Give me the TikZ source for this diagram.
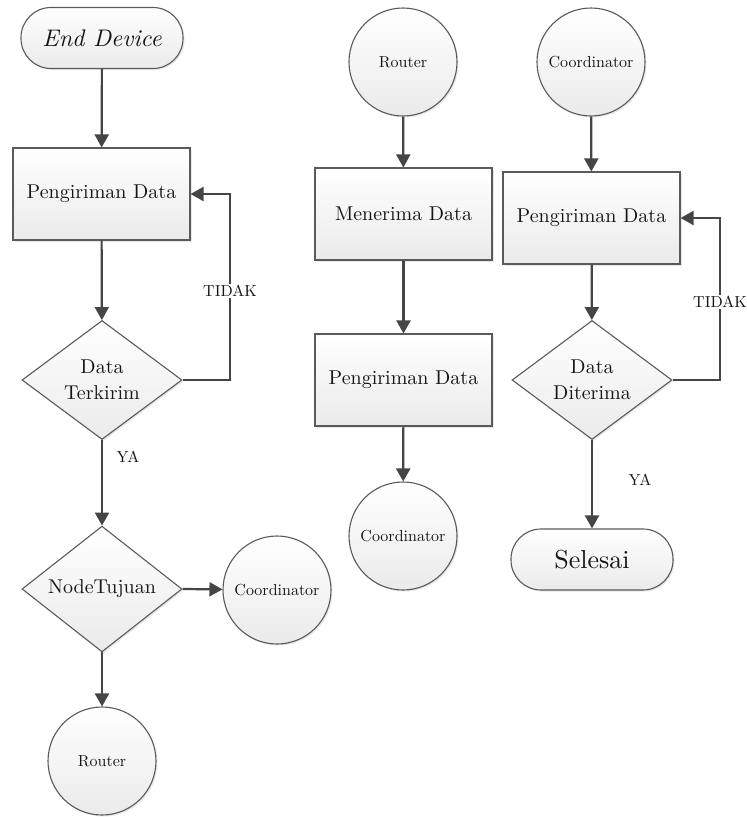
\documentclass[tikz,border=0pt]{standalone}
\usepackage{fontspec}
\setmainfont{lmroman10-regular.otf}[ItalicFont=lmroman10-italic.otf, BoldFont=lmroman10-bold.otf]
\usetikzlibrary{arrows.meta,shapes.geometric,shadows}
\definecolor{edge}{HTML}{5A5A5A}
\definecolor{arrowc}{HTML}{454545}
\definecolor{txt}{HTML}{151515}
\tikzset{
  base/.style={draw=edge, line width=1.1pt, top color=white, bottom color=gray!16,
    text=txt, inner sep=0pt, align=center,
    drop shadow={opacity=0.18, shadow xshift=1.5pt, shadow yshift=-1.5pt}},
  termbox/.style={base, rectangle, rounded corners=30pt, minimum width=162pt, minimum height=61pt},
  procbox/.style={base, rectangle, minimum width=177pt, minimum height=92pt,
    font=\fontsize{20}{26}\selectfont},
  decbox/.style={base, diamond, minimum width=160pt, minimum height=119pt,
    font=\fontsize{20}{26}\selectfont},
  circbox/.style={base, circle, minimum size=108pt, font=\fontsize{16}{20}\selectfont},
  arr/.style={draw=arrowc, line width=2.2pt, -{Triangle[length=13pt,width=14pt]}},
  lbl/.style={fill=white, text=txt, inner sep=1.5pt, font=\fontsize{16}{20}\selectfont},
}
\begin{document}
\begin{tikzpicture}[x=1pt,y=-1pt]
\useasboundingbox (0,0) rectangle (747,817);
% left column
\node[termbox, font=\fontsize{24}{30}\selectfont\itshape] (ED) at (102,38) {End Device};
\node[procbox] (P1) at (101.5,194) {Pengiriman Data};
\node[decbox] (D1) at (102,380) {Data\\Terkirim};
\node[decbox] (D2) at (102,589) {NodeTujuan};
\node[circbox] (C1) at (277,590) {Coordinator};
\node[circbox] (R1) at (102,761) {Router};
% middle column
\node[circbox] (R2) at (403,62) {Router};
\node[procbox] (M) at (403.5,214) {Menerima Data};
\node[procbox] (P2) at (403.5,380) {Pengiriman Data};
\node[circbox] (C2) at (403,536) {Coordinator};
% right column
\node[circbox] (C3) at (591,62) {Coordinator};
\node[procbox] (P3) at (591.5,218) {Pengiriman Data};
\node[decbox] (D3) at (592,380) {Data\\Diterima};
\node[termbox, font=\fontsize{26}{30}\selectfont] (S) at (592,559.5) {Selesai};
% loop corners
\coordinate (L1) at (230,194);
\coordinate (L2) at (720,218);
% connectors
\draw[arr] (ED) -- (P1);
\draw[arr] (P1) -- (D1);
\draw[arr] (D1.east) -| (L1) -- (P1.east);
\draw[arr] (D1.south) -- (D2.north);
\draw[arr] (D2.east) -- (C1);
\draw[arr] (D2.south) -- (R1);
\draw[arr] (R2) -- (M);
\draw[arr] (M) -- (P2);
\draw[arr] (P2) -- (C2);
\draw[arr] (C3) -- (P3);
\draw[arr] (P3) -- (D3);
\draw[arr] (D3.east) -| (L2) -- (P3.east);
\draw[arr] (D3.south) -- (S);
% labels
\node[lbl] (T1) at (230,291) {TIDAK};
\node[lbl] (T2) at (720,302) {TIDAK};
\node[lbl, fill=none] (Y1) at (128,457) {YA};
\node[lbl, fill=none] (Y2) at (640,480) {YA};
\end{tikzpicture}
\end{document}
